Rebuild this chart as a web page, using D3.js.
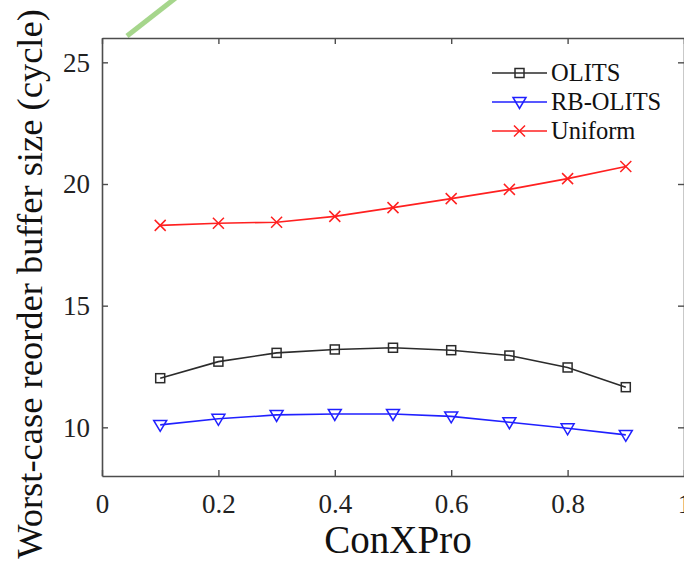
<!DOCTYPE html>
<html><head><meta charset="utf-8">
<script src="https://cdn.jsdelivr.net/npm/d3@7"></script>
<style>html,body{margin:0;padding:0;background:#fff;overflow:hidden}</style>
</head><body>
<svg id="c" width="684" height="561"></svg>
<script>
const xValues = [0.1,0.2,0.3,0.4,0.5,0.6,0.7,0.8,0.9];
const olits   = [12.02,12.70,13.06,13.20,13.27,13.17,12.95,12.46,11.65];
const rbOlits = [10.10,10.35,10.51,10.55,10.55,10.45,10.21,9.96,9.69];
const uniform = [18.30,18.39,18.43,18.67,19.03,19.40,19.78,20.22,20.72];
const seriesNames = ["OLITS","RB-OLITS","Uniform"];
const xTicks = [0,0.2,0.4,0.6,0.8,1];
const yTicks = [10,15,20,25];
const xLabel = "ConXPro";
const yLabel = "Worst-case reorder buffer size (cycle)";

const svg = d3.select("#c");
const L=102, R=684, T=38, B=476;
const x = d3.scaleLinear().domain([0,1]).range([L,R]);
const y = d3.scaleLinear().domain([8,26]).range([B,T]);
const axisColor="#4d4d4d";
const font="'Liberation Serif','Times New Roman',serif";

// stray green stroke (artifact in reference)
svg.append("line").attr("x1",127).attr("y1",36).attr("x2",182).attr("y2",-7)
  .attr("stroke","#a6d68c").attr("stroke-width",5);

// axes
const gx = svg.append("g").attr("transform",`translate(0,${B})`)
  .call(d3.axisBottom(x).tickValues(xTicks).tickSizeInner(-6).tickSizeOuter(0).tickPadding(18).tickFormat(d3.format("")));
const gxt = svg.append("g").attr("transform",`translate(0,${T})`)
  .call(d3.axisTop(x).tickValues(xTicks).tickSizeInner(-6).tickSizeOuter(0).tickFormat(""));
const gy = svg.append("g").attr("transform",`translate(${L},0)`)
  .call(d3.axisLeft(y).tickValues(yTicks).tickSizeInner(-6).tickSizeOuter(0).tickPadding(12));
const gyr = svg.append("g").attr("transform",`translate(${R},0)`)
  .call(d3.axisRight(y).tickValues(yTicks).tickSizeInner(-6).tickSizeOuter(0).tickFormat(""));
[gx,gxt,gy,gyr].forEach(g=>{
  g.select(".domain").attr("stroke",axisColor).attr("stroke-width",1.6);
  g.selectAll(".tick line").attr("stroke",axisColor).attr("stroke-width",1.4);
  g.selectAll("text").attr("font-family",font).attr("font-size",27).attr("fill","#222");
});
gy.selectAll("text").attr("dy","0.33em");

// axis labels
svg.append("text").attr("x",398).attr("y",553).attr("text-anchor","middle")
  .attr("font-family",font).attr("font-size",39).attr("fill","#111").text(xLabel);
svg.append("text").attr("transform","translate(42,284) rotate(-90)").attr("text-anchor","middle")
  .attr("font-family",font).attr("font-size",36.5).attr("fill","#111").text(yLabel);

const series = [
  {name:seriesNames[0], vals:olits, color:"#2b2b2b", marker:"square"},
  {name:seriesNames[1], vals:rbOlits, color:"#2020ff", marker:"tri"},
  {name:seriesNames[2], vals:uniform, color:"#ff2020", marker:"x"}
];
function drawMarker(g, type, cx, cy, color){
  if(type==="square"){
    g.append("rect").attr("x",cx-4.5).attr("y",cy-4.5).attr("width",9).attr("height",9)
      .attr("fill","none").attr("stroke",color).attr("stroke-width",1.5);
  } else if(type==="tri"){
    g.append("path").attr("d",`M${cx-6.5},${cy-4.5}L${cx+6.5},${cy-4.5}L${cx},${cy+6.5}Z`)
      .attr("fill","none").attr("stroke",color).attr("stroke-width",1.5);
  } else {
    g.append("path").attr("d",`M${cx-5.5},${cy-5.5}L${cx+5.5},${cy+5.5}M${cx-5.5},${cy+5.5}L${cx+5.5},${cy-5.5}`)
      .attr("fill","none").attr("stroke",color).attr("stroke-width",1.5);
  }
}
const line = d3.line().x((d,i)=>x(xValues[i])).y(d=>y(d));
series.forEach(s=>{
  const g = svg.append("g");
  g.append("path").datum(s.vals).attr("d",line).attr("fill","none")
    .attr("stroke",s.color).attr("stroke-width",1.6);
  s.vals.forEach((v,i)=>drawMarker(g,s.marker,x(xValues[i]),y(v),s.color));
});

// legend
const legY=[73,102,131];
series.forEach((s,i)=>{
  const g=svg.append("g");
  g.append("line").attr("x1",492).attr("x2",547).attr("y1",legY[i]).attr("y2",legY[i])
    .attr("stroke",s.color).attr("stroke-width",1.6);
  drawMarker(g,s.marker,519.5,legY[i],s.color);
  g.append("text").attr("x",551).attr("y",legY[i]).attr("dy","0.34em")
    .attr("font-family",font).attr("font-size",24.5).attr("fill","#111").text(s.name);
});
</script>
</body></html>
